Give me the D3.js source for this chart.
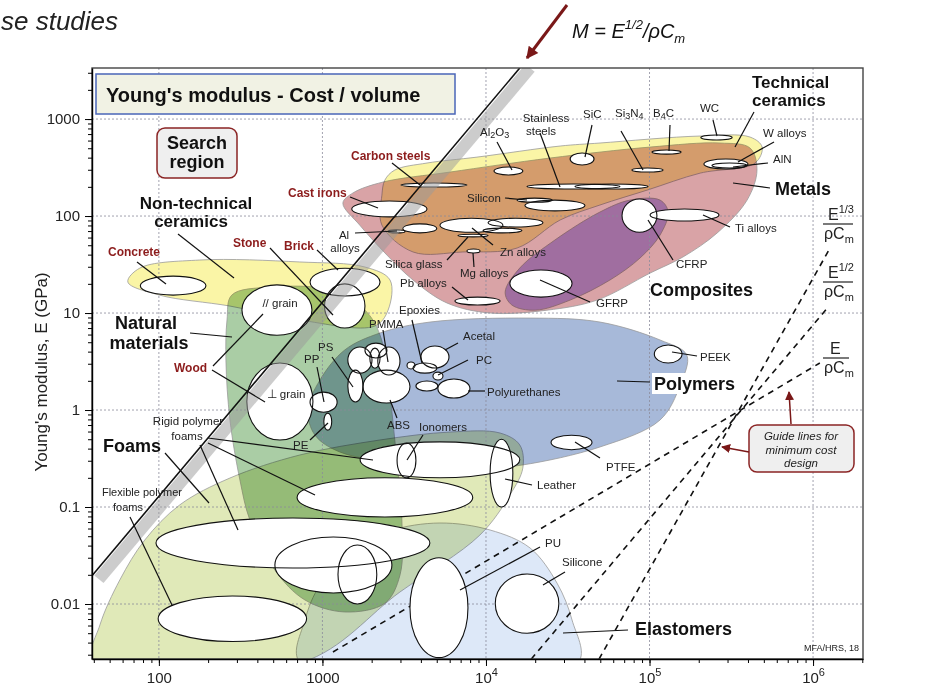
<!DOCTYPE html>
<html>
<head>
<meta charset="utf-8">
<script src="https://cdn.jsdelivr.net/npm/d3@7"></script>
<style>
  body { margin: 0; background: #fff; }
  svg { font-family: "Liberation Sans", Arial, sans-serif; }
</style>
</head>
<body>
<svg id="chart" width="938" height="690"></svg>
<script>
// axis extents (cost per unit volume, Young's modulus in GPa)
const costDomain = [39, 2.02e6];
const modulusDomain = [0.00271, 3360];
const xTicks = [100, 1000, 1e4, 1e5, 1e6];
const yTicks = [0.01, 0.1, 1, 10, 100, 1000];

// material bubbles: [name, cost min, cost max, E min, E max]
const bubbles = [
  ['Concrete', 77, 194, 15.3, 24],
  ['Brick', 840, 2250, 15, 29],
  ['Stone', 1030, 1820, 7, 20],
  ['Wood // grain', 322, 863, 5.9, 19.5],
  ['Wood perp grain', 345, 875, 0.49, 3.05],
  ['PP', 840, 1230, 0.95, 1.53],
  ['PE', 1020, 1140, 0.62, 0.93],
  ['PS', 1430, 1770, 1.21, 2.58],
  ['polymer-a', 1430, 2010, 2.4, 4.46],
  ['polymer-b', 1950, 2250, 2.7, 4.35],
  ['polymer-c', 1820, 2480, 3.44, 4.9],
  ['PMMA', 2180, 2980, 2.3, 4.46],
  ['ABS', 1770, 3430, 1.18, 2.58],
  ['Epoxies', 3580, 5010, 2.4, 3.05],
  ['polymer-d', 3290, 3680, 2.65, 3.13],
  ['Acetal', 4000, 5940, 2.71, 4.57],
  ['PC', 4740, 5460, 2.04, 2.46],
  ['polymer-e', 3730, 5080, 1.57, 1.99],
  ['Polyurethanes', 5080, 7980, 1.33, 2.09],
  ['Rigid foam HD', 1700, 16100, 0.2, 0.47],
  ['Ionomers', 2860, 3730, 0.2, 0.457],
  ['Leather', 10600, 14600, 0.1, 0.5],
  ['PTFE', 25000, 44500, 0.39, 0.55],
  ['PEEK', 107000, 158000, 3.05, 4.68],
  ['Rigid foam MD', 700, 8300, 0.079, 0.2],
  ['Flexible foam HD', 96, 4540, 0.0235, 0.077],
  ['foam-b', 512, 2660, 0.013, 0.049],
  ['foam-c', 1245, 2150, 0.01, 0.0406],
  ['Flexible foam LD', 99, 800, 0.0041, 0.0121],
  ['PU', 3430, 7760, 0.0028, 0.03],
  ['Silicone', 11400, 27900, 0.005, 0.0204],
  ['Cast irons', 1510, 4360, 98, 143],
  ['Carbon steels', 3020, 7650, 199, 219],
  ['Al2O3', 11200, 16800, 265, 320],
  ['SiC', 32700, 45800, 336, 446],
  ['Stainless steels', 17800, 66000, 190, 214],
  ['metal-a', 35000, 98000, 190, 214],
  ['Silicon', 15500, 25400, 139, 153],
  ['metal-b', 17300, 40300, 113, 146],
  ['Zn alloys', 5230, 12700, 68, 95],
  ['metal-c', 10300, 22300, 77, 95],
  ['metal-d', 9600, 16600, 67, 75],
  ['Al alloys', 3100, 5000, 67, 83],
  ['metal-e', 2520, 3200, 67, 72],
  ['Silica glass', 6740, 10300, 61, 65],
  ['Mg alloys', 7650, 9200, 41.6, 45.7],
  ['Pb alloys', 6460, 12200, 12.1, 14.6],
  ['GFRP', 14000, 33600, 14.6, 27.8],
  ['Si3N4', 78000, 121000, 284, 313],
  ['B4C', 103500, 156000, 435, 479],
  ['WC', 206000, 320000, 608, 684],
  ['Ti alloys', 100700, 266000, 89, 118],
  ['CFRP', 67900, 111000, 68, 150],
  ['W alloys', 215000, 400000, 305, 387],
  ['AlN', 241000, 395000, 313, 352]
];

// family envelopes: [cost, E] outline points
const foams = [[39.4, 0.0025], [43.6, 0.00608], [57.7, 0.0177], [82, 0.0457], [134, 0.105], [272, 0.199],
  [728, 0.344], [2250, 0.491], [6030, 0.593], [12200, 0.579], [16100, 0.436], [16800, 0.252],
  [14000, 0.133], [9180, 0.0514], [2980, 0.0133], [750, 0.0025]];
const elastomers = [[728, 0.0025], [782, 0.00684], [966, 0.0157], [1470, 0.0336], [2590, 0.0566], [5230, 0.0684],
  [10600, 0.0579], [18600, 0.0378], [27200, 0.0164], [33600, 0.00684], [36600, 0.0025]];
const naturalMaterials = [[279, 15.3], [478, 18.5], [1110, 17.3], [1820, 10.7], [2250, 5.93], [2520, 2.04],
  [2770, 0.491], [3060, 0.0735], [2980, 0.0199], [2410, 0.0102], [1370, 0.00828], [782, 0.011],
  [512, 0.0224], [360, 0.0735], [313, 0.19], [272, 0.789], [257, 3.27], [261, 8.47]];
const nonTechCeramics = [[64.6, 20.9], [76.6, 29.1], [178, 35.2], [728, 33.6], [1820, 29.8], [2590, 21.9],
  [2520, 10.7], [2090, 7.35], [728, 8.47], [272, 11.8], [101, 15.3]];
const polymers = [[815, 1.0], [966, 2.04], [1370, 4.16], [2250, 6.22], [4540, 8.07], [18600, 8.87], [49800, 8.07],
  [116000, 5.27], [169000, 3.69], [154000, 1.81], [116000, 0.789], [49800, 0.416], [16600, 0.271],
  [9180, 0.252], [2980, 0.284], [1280, 0.369], [900, 0.552]];
const metals = [[1334, 136], [1538, 173], [2344, 224], [6030, 284], [24600, 396], [100700, 514], [270000, 566],
  [412000, 502], [454000, 298], [395000, 146], [259000, 66.8], [160000, 37.8], [100700, 25.8], [47800, 13.6],
  [23600, 10.7], [10600, 10], [5770, 12.7], [3580, 21.9], [2480, 39.6], [1690, 80.7]];
const techCeramics = [[2410, 235], [2770, 298], [4360, 352], [8810, 405], [28400, 527], [49800, 566], [204000, 668],
  [412000, 652], [488000, 514], [442000, 352], [204000, 277], [96600, 185], [49800, 130], [28400, 91],
  [15500, 46.8], [7230, 42.6], [3580, 42.6], [2310, 80.7], [2310, 164]];
const composites = [[13100, 16.4], [16100, 29.1], [26400, 56.6], [49800, 110], [76000, 146], [116000, 146],
  [130000, 110], [116000, 63.7], [87500, 36.9], [57300, 21.9], [32700, 13.6], [20000, 10.7], [14400, 12.1]];

// index lines: E = k * C^n
const indexLine = [[39, 0.0196], [16100, 3360]];          // M = E^1/2 / rho Cm through search region
const indexBand = [[43, 0.018], [18600, 3360]];
const guideLines = [
  [[1160, 0.0032], [1.1e6, 3.05]],     // E / rho Cm
  [[18900, 0.0027], [1.236e6, 11.5]],  // E^1/2 / rho Cm
  [[49100, 0.0027], [1.27e6, 46.8]]    // E^1/3 / rho Cm
];

const envelopeFill = [
  [foams, '#e0e9b8'], [elastomers, '#dde8f8'], [naturalMaterials, '#aacda5'],
  [nonTechCeramics, '#faf5a6'], [polymers, '#a7b9d9'], [metals, '#d9a3a6'],
  [techCeramics, '#faf5a6'], [composites, '#bcacf6']
];

const plot = {left: 92, right: 863, top: 68, bottom: 659};
const svg = d3.select('#chart');

const x = d3.scaleLog().domain(costDomain).range([plot.left, plot.right]);
const y = d3.scaleLog().domain(modulusDomain).range([plot.bottom, plot.top]);

svg.append('defs').append('clipPath').attr('id', 'plotClip')
  .append('rect')
  .attr('x', plot.left).attr('y', plot.top)
  .attr('width', plot.right - plot.left).attr('height', plot.bottom - plot.top);

const defs = svg.select('defs');
defs.append('marker')
  .attr('id', 'redArrow').attr('viewBox', '0 0 10 10')
  .attr('refX', 9).attr('refY', 5)
  .attr('markerWidth', 6).attr('markerHeight', 6)
  .attr('markerUnits', 'strokeWidth')
  .attr('orient', 'auto')
  .append('path').attr('d', 'M0,0 L10,5 L0,10 z').attr('fill', '#7a1818');
defs.append('marker')
  .attr('id', 'bigArrow').attr('viewBox', '0 0 10 10')
  .attr('refX', 9).attr('refY', 5)
  .attr('markerWidth', 5).attr('markerHeight', 4)
  .attr('markerUnits', 'strokeWidth')
  .attr('orient', 'auto')
  .append('path').attr('d', 'M0,0 L10,5 L0,10 z').attr('fill', '#7a1818');

const inner = svg.append('g').attr('clip-path', 'url(#plotClip)');

// envelopes (multiply so overlaps darken like the printed chart)
const env = inner.append('g').style('isolation', 'isolate');
const hull = d3.line()
  .x(d => x(d[0]))
  .y(d => y(d[1]))
  .curve(d3.curveCatmullRomClosed.alpha(0.5));
env.selectAll('path')
  .data(envelopeFill)
  .join('path')
  .attr('d', d => hull(d[0]))
  .attr('fill', d => d[1])
  .attr('stroke', '#9a9a9a')
  .attr('stroke-width', 0.8)
  .style('mix-blend-mode', 'multiply');

// grid
inner.append('g').selectAll('line')
  .data(xTicks)
  .join('line')
  .attr('x1', d => x(d)).attr('x2', d => x(d))
  .attr('y1', plot.top).attr('y2', plot.bottom)
  .attr('stroke', '#8a8a9a').attr('stroke-width', 0.8).attr('stroke-dasharray', '2,2');
inner.append('g').selectAll('line')
  .data(yTicks)
  .join('line')
  .attr('y1', d => y(d)).attr('y2', d => y(d))
  .attr('x1', plot.left).attr('x2', plot.right)
  .attr('stroke', '#8a8a9a').attr('stroke-width', 0.8).attr('stroke-dasharray', '2,2');

// guide lines
const seg = d3.line().x(d => x(d[0])).y(d => y(d[1]));
inner.append('g').selectAll('path')
  .data(guideLines)
  .join('path')
  .attr('d', seg)
  .attr('fill', 'none')
  .attr('stroke', '#111')
  .attr('stroke-width', 1.6)
  .attr('stroke-dasharray', '6,5');

// bubbles: fills first, then outlines
const ell = d => ({
  cx: (x(d[1]) + x(d[2])) / 2, cy: (y(d[3]) + y(d[4])) / 2,
  rx: Math.abs(x(d[2]) - x(d[1])) / 2, ry: Math.abs(y(d[3]) - y(d[4])) / 2
});
inner.append('g').selectAll('ellipse')
  .data(bubbles)
  .join('ellipse')
  .each(function (d) { const e = ell(d); d3.select(this).attr('cx', e.cx).attr('cy', e.cy).attr('rx', e.rx).attr('ry', e.ry); })
  .attr('fill', '#fff');
inner.append('g').selectAll('ellipse')
  .data(bubbles)
  .join('ellipse')
  .each(function (d) { const e = ell(d); d3.select(this).attr('cx', e.cx).attr('cy', e.cy).attr('rx', e.rx).attr('ry', e.ry); })
  .attr('fill', 'none')
  .attr('stroke', '#111')
  .attr('stroke-width', 1.1);

// search line + grey band
inner.append('path')
  .attr('d', seg(indexBand))
  .attr('stroke', '#9a9a9a').attr('stroke-opacity', 0.5)
  .attr('stroke-width', 12).attr('fill', 'none');
inner.append('path')
  .attr('d', seg(indexLine))
  .attr('stroke', '#111').attr('stroke-width', 1.6).attr('fill', 'none');

// frame
svg.append('rect')
  .attr('x', plot.left).attr('y', plot.top)
  .attr('width', plot.right - plot.left).attr('height', plot.bottom - plot.top)
  .attr('fill', 'none').attr('stroke', '#444').attr('stroke-width', 1.4);

// axes
const minorX = [], minorY = [];
for (let p = 1; p <= 6; p++) for (let m = 1; m < 10; m++) {
  const v = m * Math.pow(10, p);
  if (v >= costDomain[0] && v <= costDomain[1]) minorX.push(v);
}
for (let p = -3; p <= 3; p++) for (let m = 1; m < 10; m++) {
  const v = m * Math.pow(10, p);
  if (v >= modulusDomain[0] && v <= modulusDomain[1]) minorY.push(v);
}
svg.append('g')
  .attr('transform', `translate(0,${plot.bottom})`)
  .call(d3.axisBottom(x).tickValues(minorX).tickSize(4).tickSizeOuter(0).tickFormat(''))
  .call(g => g.select('.domain').remove());
svg.append('g')
  .attr('transform', `translate(${plot.left},0)`)
  .call(d3.axisLeft(y).tickValues(minorY).tickSize(4).tickSizeOuter(0).tickFormat(''))
  .call(g => g.select('.domain').remove());

const xAxis = svg.append('g')
  .attr('transform', `translate(0,${plot.bottom})`)
  .call(d3.axisBottom(x).tickValues(xTicks).tickSize(7).tickSizeOuter(0).tickPadding(6).tickFormat(''));
xAxis.select('.domain').attr('stroke-width', 1.4);
xAxis.selectAll('.tick text')
  .attr('font-size', 15).attr('fill', '#222')
  .html(d => d < 1e4 ? String(d)
    : `10<tspan dy="-7" font-size="11">${Math.round(Math.log10(d))}</tspan>`);

const yAxis = svg.append('g')
  .attr('transform', `translate(${plot.left},0)`)
  .call(d3.axisLeft(y).tickValues(yTicks).tickSize(7).tickSizeOuter(0).tickPadding(5)
    .tickFormat(d => String(d)));
yAxis.select('.domain').attr('stroke-width', 1.4);
yAxis.selectAll('.tick text').attr('font-size', 15).attr('fill', '#222');

svg.append('text')
  .attr('transform', 'translate(47,372) rotate(-90)')
  .attr('text-anchor', 'middle')
  .attr('font-size', 17).attr('fill', '#222')
  .text("Young's modulus, E (GPa)");

// leader lines (label position -> bubble / envelope)
const leaders = [
  [392, 163, 420, 185], [350, 197, 378, 208], [137, 262, 166, 284], [270, 248, 333, 315],
  [317, 250, 338, 270], [213, 366, 263, 314], [212, 370, 265, 402], [754, 112, 735, 147],
  [770, 188, 733, 183], [650, 382, 617, 381], [628, 630, 563, 633], [178, 234, 234, 278],
  [190, 333, 232, 337], [165, 453, 209, 503], [497, 142, 512, 170], [540, 133, 560, 187],
  [592, 125, 585, 157], [621, 131, 643, 170], [670, 125, 669, 151], [713, 120, 717, 136],
  [774, 142, 738, 162], [768, 163, 733, 167], [730, 227, 703, 215], [673, 260, 648, 220],
  [590, 302, 540, 280], [505, 198, 527, 200], [493, 245, 472, 228], [447, 260, 468, 237],
  [474, 267, 473, 253], [452, 287, 468, 300], [355, 233, 397, 231], [332, 357, 353, 387],
  [317, 367, 324, 402], [310, 440, 328, 423], [383, 330, 388, 362], [412, 320, 422, 363],
  [458, 343, 445, 350], [468, 360, 438, 375], [485, 391, 468, 391], [397, 418, 390, 400],
  [423, 435, 407, 460], [600, 458, 575, 442], [697, 356, 672, 352], [532, 485, 505, 479],
  [208, 438, 373, 460], [208, 443, 315, 495], [200, 445, 238, 530], [130, 517, 172, 605],
  [540, 547, 460, 590], [565, 572, 543, 585]
];
svg.append('g').selectAll('line')
  .data(leaders)
  .join('line')
  .attr('x1', d => d[0]).attr('y1', d => d[1])
  .attr('x2', d => d[2]).attr('y2', d => d[3])
  .attr('stroke', '#111').attr('stroke-width', 1.2);

// white patch behind Polymers
svg.append('rect').attr('x', 652).attr('y', 373).attr('width', 84).attr('height', 21).attr('fill', '#fff');

const textStyle = {
  red: [12, 'bold', '#8c1c1c'],
  big: [18, 'bold', '#111'],
  big2: [17, 'bold', '#111'],
  small: [11.5, 'normal', '#222'],
  tiny: [11, 'normal', '#222']
};
const labels = [
  ['Carbon steels', 351, 160, 'red', 'start'], ['Cast irons', 288, 197, 'red', 'start'],
  ['Concrete', 108, 256, 'red', 'start'], ['Stone', 233, 247, 'red', 'start'],
  ['Brick', 284, 250, 'red', 'start'], ['Wood', 174, 372, 'red', 'start'],
  ['Technical', 752, 88, 'big2', 'start'], ['ceramics', 752, 106, 'big2', 'start'],
  ['Metals', 775, 195, 'big', 'start'], ['Composites', 650, 296, 'big', 'start'],
  ['Polymers', 654, 390, 'big', 'start'], ['Elastomers', 635, 635, 'big', 'start'],
  ['Non-technical', 196, 209, 'big2', 'middle'], ['ceramics', 191, 227, 'big2', 'middle'],
  ['Natural', 146, 329, 'big', 'middle'], ['materials', 149, 349, 'big', 'middle'],
  ['Foams', 103, 452, 'big', 'start'],
  ['Al<tspan baseline-shift="-25%" font-size="9">2</tspan>O<tspan baseline-shift="-25%" font-size="9">3</tspan>', 480, 136, 'small', 'start'],
  ['Stainless', 546, 122, 'small', 'middle'], ['steels', 541, 135, 'small', 'middle'],
  ['SiC', 583, 118, 'small', 'start'],
  ['Si<tspan baseline-shift="-25%" font-size="9">3</tspan>N<tspan baseline-shift="-25%" font-size="9">4</tspan>', 615, 117, 'small', 'start'],
  ['B<tspan baseline-shift="-25%" font-size="9">4</tspan>C', 653, 117, 'small', 'start'],
  ['WC', 700, 112, 'small', 'start'], ['W alloys', 763, 137, 'small', 'start'],
  ['AlN', 773, 163, 'small', 'start'], ['Ti alloys', 735, 232, 'small', 'start'],
  ['CFRP', 676, 268, 'small', 'start'], ['GFRP', 596, 307, 'small', 'start'],
  ['Silicon', 467, 202, 'small', 'start'], ['Zn alloys', 500, 256, 'small', 'start'],
  ['Silica glass', 385, 268, 'small', 'start'], ['Mg alloys', 460, 277, 'small', 'start'],
  ['Pb alloys', 400, 287, 'small', 'start'],
  ['Al', 344, 239, 'small', 'middle'], ['alloys', 345, 252, 'small', 'middle'],
  ['// grain', 280, 307, 'small', 'middle'], ['\u22A5 grain', 286, 398, 'small', 'middle'],
  ['PS', 318, 351, 'small', 'start'], ['PP', 304, 363, 'small', 'start'],
  ['PE', 293, 449, 'small', 'start'], ['PMMA', 369, 328, 'small', 'start'],
  ['Epoxies', 399, 314, 'small', 'start'], ['Acetal', 463, 340, 'small', 'start'],
  ['PC', 476, 364, 'small', 'start'], ['Polyurethanes', 487, 396, 'small', 'start'],
  ['ABS', 387, 429, 'small', 'start'], ['Ionomers', 419, 431, 'small', 'start'],
  ['PTFE', 606, 471, 'small', 'start'], ['PEEK', 700, 361, 'small', 'start'],
  ['Leather', 537, 489, 'small', 'start'],
  ['Rigid polymer', 188, 425, 'small', 'middle'], ['foams', 187, 440, 'small', 'middle'],
  ['Flexible polymer', 142, 496, 'tiny', 'middle'], ['foams', 128, 511, 'tiny', 'middle'],
  ['PU', 545, 547, 'small', 'start'], ['Silicone', 562, 566, 'small', 'start']
];
svg.append('g').selectAll('text')
  .data(labels)
  .join('text')
  .attr('x', d => d[1]).attr('y', d => d[2])
  .attr('text-anchor', d => d[4])
  .attr('font-size', d => textStyle[d[3]][0])
  .attr('font-weight', d => textStyle[d[3]][1])
  .attr('fill', d => textStyle[d[3]][2])
  .html(d => d[0]);

svg.append('text')
  .attr('x', 859).attr('y', 651).attr('text-anchor', 'end')
  .attr('font-size', 9).attr('fill', '#222')
  .text('MFA/HRS, 18');

// title box
svg.append('rect')
  .attr('x', 96).attr('y', 74).attr('width', 359).attr('height', 40)
  .attr('fill', '#f1f2e4').attr('stroke', '#4a66b8').attr('stroke-width', 1.5);
svg.append('text')
  .attr('x', 106).attr('y', 102)
  .attr('font-size', 20).attr('font-weight', 'bold').attr('fill', '#111')
  .text("Young's modulus - Cost / volume");

// search region box
svg.append('rect')
  .attr('x', 157).attr('y', 128).attr('width', 80).attr('height', 50).attr('rx', 8)
  .attr('fill', '#efefef').attr('stroke', '#8b2525').attr('stroke-width', 1.5);
svg.append('text').attr('x', 197).attr('y', 149).attr('text-anchor', 'middle')
  .attr('font-size', 18).attr('font-weight', 'bold').attr('fill', '#111').text('Search');
svg.append('text').attr('x', 197).attr('y', 168).attr('text-anchor', 'middle')
  .attr('font-size', 18).attr('font-weight', 'bold').attr('fill', '#111').text('region');

// guide lines box
svg.append('rect')
  .attr('x', 749).attr('y', 425).attr('width', 105).attr('height', 47).attr('rx', 8)
  .attr('fill', '#efefef').attr('stroke', '#8b2525').attr('stroke-width', 1.5);
['Guide lines for', 'minimum cost', 'design'].forEach((t, i) => {
  svg.append('text').attr('x', 801).attr('y', 440 + i * 13.5).attr('text-anchor', 'middle')
    .attr('font-size', 11.5).attr('font-style', 'italic').attr('fill', '#222').text(t);
});
svg.append('line').attr('x1', 791).attr('y1', 424).attr('x2', 789).attr('y2', 392)
  .attr('stroke', '#7a1818').attr('stroke-width', 1.5).attr('marker-end', 'url(#redArrow)');
svg.append('line').attr('x1', 749).attr('y1', 452).attr('x2', 722).attr('y2', 447)
  .attr('stroke', '#7a1818').attr('stroke-width', 1.5).attr('marker-end', 'url(#redArrow)');

// guide line fraction labels
const fracs = [['1/3', 220], ['1/2', 278], ['', 354]];
fracs.forEach(([p, yy]) => {
  const t = svg.append('text').attr('x', p ? 828 : 830).attr('y', yy)
    .attr('font-size', 16).attr('fill', '#222');
  t.append('tspan').text('E');
  if (p) t.append('tspan').attr('dy', -7).attr('font-size', 11).text(p);
  svg.append('line').attr('x1', 823).attr('x2', p ? 853 : 849)
    .attr('y1', yy + 4).attr('y2', yy + 4).attr('stroke', '#222').attr('stroke-width', 1.2);
  const b = svg.append('text').attr('x', 824).attr('y', yy + 19)
    .attr('font-size', 16).attr('fill', '#222');
  b.append('tspan').text('\u03C1C');
  b.append('tspan').attr('dy', 4).attr('font-size', 11).text('m');
});

// index label and arrow above the plot
svg.append('line').attr('x1', 567).attr('y1', 5).attr('x2', 527).attr('y2', 58)
  .attr('stroke', '#7a1818').attr('stroke-width', 3).attr('marker-end', 'url(#bigArrow)');
const m = svg.append('text').attr('x', 572).attr('y', 38)
  .attr('font-size', 20).attr('font-style', 'italic').attr('fill', '#111');
m.append('tspan').text('M = E');
m.append('tspan').attr('dy', -9).attr('font-size', 13).text('1/2');
m.append('tspan').attr('dy', 9).text('/\u03C1C');
m.append('tspan').attr('dy', 5).attr('font-size', 13).text('m');

// page heading (only its tail is visible in the frame)
svg.append('text')
  .attr('x', 1).attr('y', 30)
  .attr('font-size', 26).attr('font-style', 'italic').attr('fill', '#222')
  .text('se studies');
</script>
</body>
</html>
